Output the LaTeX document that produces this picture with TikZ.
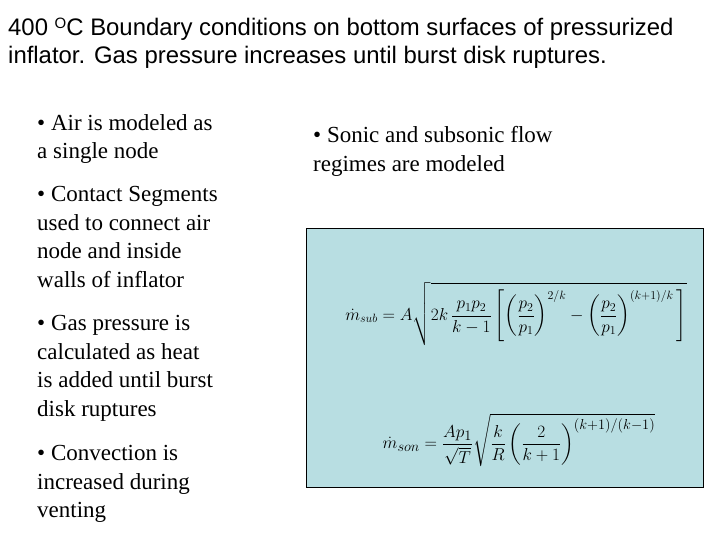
\documentclass[tikz,border=0pt]{standalone}
\usepackage{amsmath}
\usepackage{fontspec}
\setmainfont{Liberation Serif}
\newfontfamily\arialf{Liberation Sans}
\definecolor{boxblue}{RGB}{184,222,226}
\begin{document}
\begin{tikzpicture}[x=1pt,y=1pt,
  txt/.style={anchor=north west,inner sep=0pt,align=left,font=\fontsize{23}{28.7}\selectfont},
  ttl/.style={anchor=north west,inner sep=0pt,align=left,font=\arialf\fontsize{23.9}{28}\selectfont}]
\useasboundingbox (0,0) rectangle (720,-540);
\fill[white] (0,0) rectangle (720,-540);
\node[ttl] (title) at (8,-18) {400 \raisebox{0.55ex}{\fontsize{15}{15}\selectfont O}C Boundary conditions on bottom surfaces of pressurized\\inflator. Gas pressure increases until burst disk ruptures.};
\node[txt] (b1) at (37,-114) {• Air is modeled as\\a single node};
\node[txt] (b2) at (37,-186) {• Contact Segments\\used to connect air\\node and inside\\walls of inflator};
\node[txt] (b3) at (37,-315) {• Gas pressure is\\calculated as heat\\is added until burst\\disk ruptures};
\node[txt] (b4) at (37,-445) {• Convection is\\increased during\\venting};
\node[txt] (b5) at (313,-126) {• Sonic and subsonic flow\\regimes are modeled};
\node[draw=black,fill=boxblue,minimum width=397,minimum height=259,anchor=north west,inner sep=0pt] (box) at (306,-228) {};
\node[font=\fontsize{17}{20}\selectfont] (eq1) at (516,-314) {$\displaystyle \dot{m}_{sub} = A\sqrt{2k\,\frac{p_1p_2}{k-1}\left[\left(\frac{p_2}{p_1}\right)^{2/k}-\left(\frac{p_2}{p_1}\right)^{(k+1)/k}\,\right]}$};
\node[font=\fontsize{19}{22}\selectfont] (eq2) at (519,-440) {$\displaystyle \dot{m}_{son} = \frac{Ap_1}{\sqrt{T}}\sqrt{\frac{k}{R}\left(\frac{2}{k+1}\right)^{(k+1)/(k-1)}}$};
\end{tikzpicture}
\end{document}
